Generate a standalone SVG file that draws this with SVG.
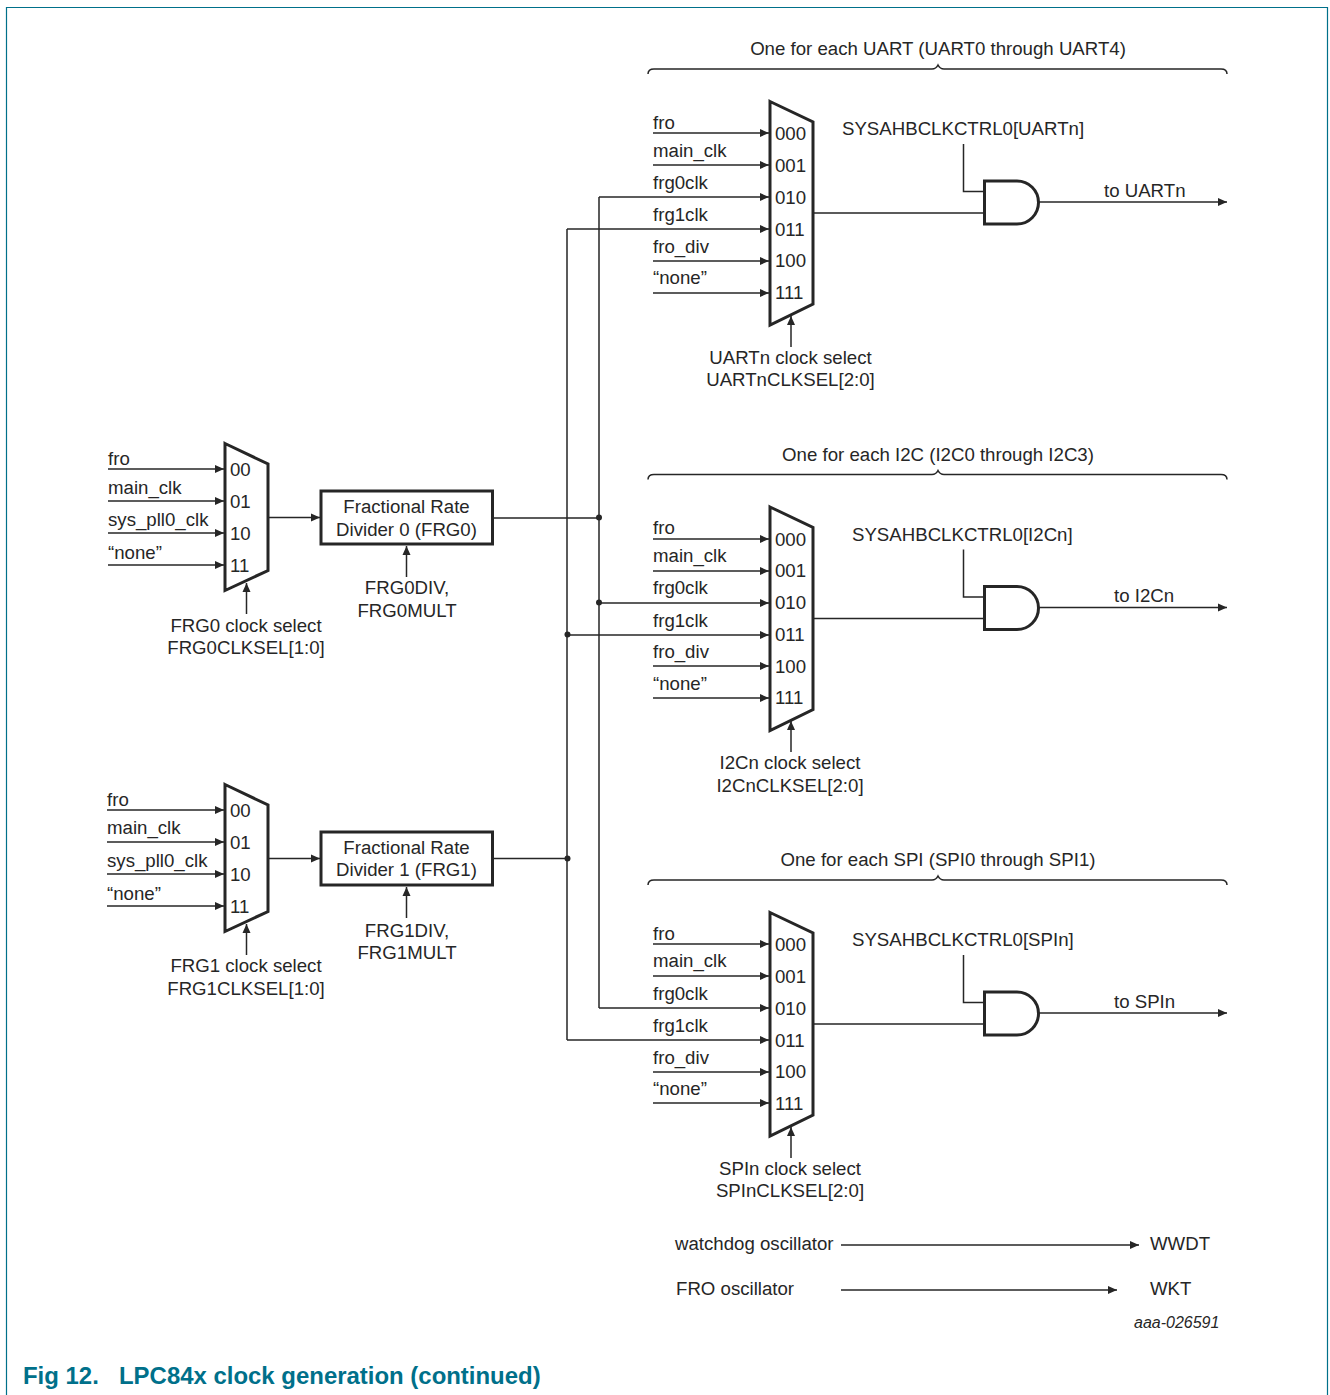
<svg xmlns="http://www.w3.org/2000/svg" width="1330" height="1395" viewBox="0 0 1330 1395">
<style>
text{font-family:"Liberation Sans",Arial,sans-serif;font-size:18.65px;fill:#262626}
.m{text-anchor:middle}
.w{fill:none;stroke:#262626;stroke-width:1.5}
.a{marker-end:url(#ah)}
.mux{fill:#fff;stroke:#262626;stroke-width:3;stroke-linejoin:miter}
.box{fill:#fff;stroke:#262626;stroke-width:3}
.gate{fill:#fff;stroke:#262626;stroke-width:3}
.dot{fill:#262626}
.bd{fill:none;stroke:#00708a;stroke-width:1.2}
.cap{font-weight:bold;font-size:23.95px;fill:#00708a}
.id{font-style:italic;font-size:16px}
</style>
<defs>
<marker id="ah" markerUnits="userSpaceOnUse" markerWidth="10" markerHeight="9" refX="9" refY="4.500" orient="auto"><path d="M0 0.500L9 4.500L0 8.500Z" fill="#262626"/></marker>
</defs>
<rect width="1330" height="1395" fill="#fff"/>
<path class="bd" d="M6.500 1395V7.500H1327.500V1395"/>

<g id="connectors">
<path class="w a" d="M108 469H224"/><path class="w a" d="M108 501H224"/><path class="w a" d="M108 533H224"/><path class="w a" d="M108 565H224"/>
<path class="w a" d="M107 810H224"/><path class="w a" d="M107 842H224"/><path class="w a" d="M107 874H224"/><path class="w a" d="M107 906H224"/>
<path class="w a" d="M269 517.500H320"/><path class="w a" d="M269 858.500H320"/>
<path class="w a" d="M246.500 614V583"/>
<path class="w a" d="M246.500 955V924"/>
<path class="w a" d="M406.500 577V546"/>
<path class="w a" d="M406.500 918V887"/>
<path class="w" d="M493 518H599M493 858.500H567"/>
<path class="w" d="M599 197V1008M567 229V1040"/>
<path class="w a" d="M599 197H769"/><path class="w a" d="M567 229H769"/><path class="w a" d="M599 603H769"/><path class="w a" d="M567 635H769"/><path class="w a" d="M599 1008H769"/><path class="w a" d="M567 1040H769"/>
<path class="w a" d="M653 133H769"/><path class="w a" d="M653 165H769"/><path class="w a" d="M653 261H769"/><path class="w a" d="M653 293H769"/>
<path class="w a" d="M653 539H769"/><path class="w a" d="M653 571H769"/><path class="w a" d="M653 666H769"/><path class="w a" d="M653 698H769"/>
<path class="w a" d="M653 944H769"/><path class="w a" d="M653 976H769"/><path class="w a" d="M653 1072H769"/><path class="w a" d="M653 1103H769"/>
<path class="w a" d="M791 347V316"/><path class="w a" d="M791 752V721"/><path class="w a" d="M791 1158V1127"/>
<path class="w" d="M814 213H984M814 618.500H984M814 1024H984"/>
<path class="w" d="M963.500 144V191.500H984M963.500 549.500V597H984M963.500 955V1002.500H984"/>
<path class="w a" d="M1039 202H1227"/><path class="w a" d="M1039 607.500H1227"/><path class="w a" d="M1039 1013H1227"/>
<path class="w a" d="M841 1245H1139"/><path class="w a" d="M841 1290H1117"/>
<circle class="dot" cx="599" cy="517.500" r="3"/>
<circle class="dot" cx="599" cy="602.500" r="3"/>
<circle class="dot" cx="567.500" cy="634.500" r="3"/>
<circle class="dot" cx="567.500" cy="858.500" r="3"/>
</g>

<g id="frg0-mux">
<path class="mux" d="M225 443.500L268 464V570.500L225 590.500Z"/>
<text x="230" y="476">00</text><text x="230" y="508">01</text><text x="230" y="540">10</text><text x="230" y="572">11</text>
<text x="108" y="465">fro</text><text x="108" y="494">main_clk</text><text x="108" y="526">sys_pll0_clk</text><text x="108" y="559">“none”</text>
<text class="m" x="246" y="632">FRG0 clock select</text><text class="m" x="246" y="654">FRG0CLKSEL[1:0]</text>
</g>
<g id="frg1-mux">
<path class="mux" d="M225 784.500L268 805V911.500L225 931.500Z"/>
<text x="230" y="817">00</text><text x="230" y="849">01</text><text x="230" y="881">10</text><text x="230" y="913">11</text>
<text x="107" y="806">fro</text><text x="107" y="834">main_clk</text><text x="107" y="867">sys_pll0_clk</text><text x="107" y="900">“none”</text>
<text class="m" x="246" y="972">FRG1 clock select</text><text class="m" x="246" y="995">FRG1CLKSEL[1:0]</text>
</g>
<g id="frg0">
<rect class="box" x="321" y="491" width="171.500" height="53"/>
<text class="m" x="406.500" y="513">Fractional Rate</text><text class="m" x="406.500" y="536">Divider 0 (FRG0)</text>
<text class="m" x="407" y="594">FRG0DIV,</text><text class="m" x="407" y="617">FRG0MULT</text>
</g>
<g id="frg1">
<rect class="box" x="321" y="832" width="171.500" height="53"/>
<text class="m" x="406.500" y="854">Fractional Rate</text><text class="m" x="406.500" y="876">Divider 1 (FRG1)</text>
<text class="m" x="407" y="937">FRG1DIV,</text><text class="m" x="407" y="959">FRG1MULT</text>
</g>

<g id="uart">
<text class="m" x="938" y="55">One for each UART (UART0 through UART4)</text>
<path class="w" d="M648 74Q648 69 654 69H932Q936 69 938 65Q940 69 944 69H1221Q1227 69 1227 74"/>
<path class="mux" d="M770 101.500L813 122V304L770 325Z"/>
<text x="775" y="140">000</text><text x="775" y="172">001</text><text x="775" y="204">010</text><text x="775" y="236">011</text><text x="775" y="267">100</text><text x="775" y="299">111</text>
<text x="653" y="129">fro</text><text x="653" y="157">main_clk</text><text x="653" y="189">frg0clk</text><text x="653" y="221">frg1clk</text><text x="653" y="253">fro_div</text><text x="653" y="284">“none”</text>
<text class="m" x="790.500" y="364">UARTn clock select</text><text class="m" x="790.500" y="386">UARTnCLKSEL[2:0]</text>
<text x="842" y="135">SYSAHBCLKCTRL0[UARTn]</text>
<path class="gate" d="M984.500 181H1017A21.500 21.500 0 0 1 1017 224H984.500Z"/>
<text x="1104" y="197">to UARTn</text>
</g>
<g id="i2c">
<text class="m" x="938" y="461">One for each I2C (I2C0 through I2C3)</text>
<path class="w" d="M648 479.500Q648 474.500 654 474.500H932Q936 474.500 938 470.500Q940 474.500 944 474.500H1221Q1227 474.500 1227 479.500"/>
<path class="mux" d="M770 507L813 527.500V709.500L770 730.500Z"/>
<text x="775" y="546">000</text><text x="775" y="577">001</text><text x="775" y="609">010</text><text x="775" y="641">011</text><text x="775" y="673">100</text><text x="775" y="704">111</text>
<text x="653" y="534">fro</text><text x="653" y="562">main_clk</text><text x="653" y="594">frg0clk</text><text x="653" y="627">frg1clk</text><text x="653" y="658">fro_div</text><text x="653" y="690">“none”</text>
<text class="m" x="790" y="769">I2Cn clock select</text><text class="m" x="790" y="792">I2CnCLKSEL[2:0]</text>
<text x="852" y="541">SYSAHBCLKCTRL0[I2Cn]</text>
<path class="gate" d="M984.500 586.500H1017A21.500 21.500 0 0 1 1017 629.500H984.500Z"/>
<text x="1114" y="602">to I2Cn</text>
</g>
<g id="spi">
<text class="m" x="938" y="866">One for each SPI (SPI0 through SPI1)</text>
<path class="w" d="M648 885Q648 880 654 880H932Q936 880 938 876Q940 880 944 880H1221Q1227 880 1227 885"/>
<path class="mux" d="M770 912.500L813 933V1115L770 1136Z"/>
<text x="775" y="951">000</text><text x="775" y="983">001</text><text x="775" y="1015">010</text><text x="775" y="1047">011</text><text x="775" y="1078">100</text><text x="775" y="1110">111</text>
<text x="653" y="940">fro</text><text x="653" y="967">main_clk</text><text x="653" y="1000">frg0clk</text><text x="653" y="1032">frg1clk</text><text x="653" y="1064">fro_div</text><text x="653" y="1095">“none”</text>
<text class="m" x="790" y="1175">SPIn clock select</text><text class="m" x="790" y="1197">SPInCLKSEL[2:0]</text>
<text x="852" y="946">SYSAHBCLKCTRL0[SPIn]</text>
<path class="gate" d="M984.500 992H1017A21.500 21.500 0 0 1 1017 1035H984.500Z"/>
<text x="1114" y="1008">to SPIn</text>
</g>
<g id="oscillators">
<text x="675" y="1250">watchdog oscillator</text><text x="1150" y="1250">WWDT</text>
<text x="676" y="1295">FRO oscillator</text><text x="1150" y="1295">WKT</text>
</g>
<text class="id" x="1134" y="1328">aaa-026591</text>
<text class="cap" x="23" y="1384">Fig 12.</text><text class="cap" x="119" y="1384">LPC84x clock generation (continued)</text>
</svg>
